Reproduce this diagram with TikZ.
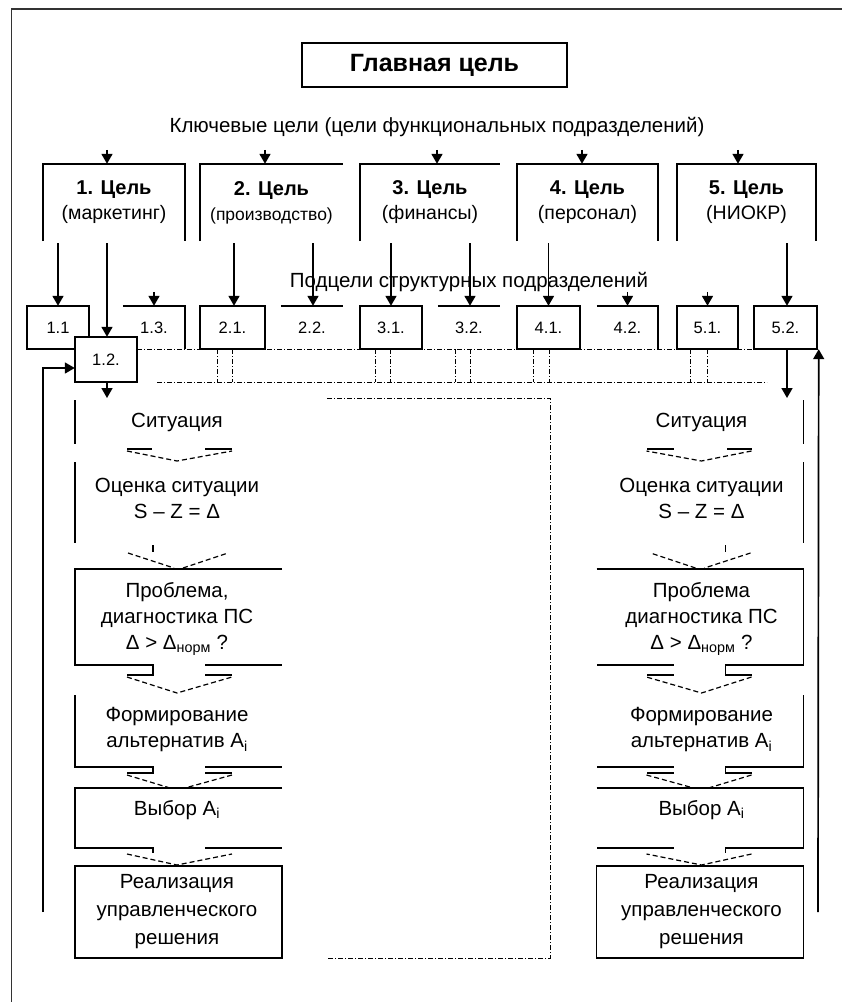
\documentclass[tikz,border=0pt]{standalone}
\usepackage{fontspec}
\setmainfont{Liberation Sans}
\usetikzlibrary{arrows.meta}
\newcommand\mycolumn[2]{%
  % Situation
  \draw[ln] (-102,400) -- (-102,444);
  \node[txt] (sit#1) at (0,422) {Ситуация};
  \draw[ln] (-50,449) -- (-25,449);
  \draw[ln] (28,449) -- (55,449);
  \draw[dsh] (-50,451) -- (0,461) -- (55,451);
  % Assessment
  \draw[ln] (-102,462) -- (-102,543);
  \node[txt] (oc#1) at (0,498) {Оценка ситуации\\S – Z = Δ};
  \draw[ln] (-24,545) -- (-24,552);
  \draw[dsh] (-49,553) -- (-3,568);
  \draw[dsh] (6,568) -- (51,553);
  % Problem
  \draw[ln] (105,569) -- (-102,569) -- (-102,665) -- (-24,665) -- (-24,675) -- (-50,675);
  \draw[ln] (28,665) -- (105,665);
  \draw[ln] (28,675) -- (55,675);
  \draw[dsh] (-50,677) -- (0,693) -- (55,677);
  \node[txt] (pr#1) at (0,619) {#2\\диагностика ПС\\Δ > Δ\textsubscript{норм} ?};
  % Alternatives
  \draw[ln] (-102,695) -- (-102,767) -- (-24,767) -- (-24,773) -- (-50,773);
  \draw[ln] (28,767) -- (105,767);
  \draw[ln] (28,773) -- (55,773);
  \draw[dsh] (-50,775) -- (-7,788);
  \draw[dsh] (55,775) -- (8,788);
  \node[txt] (fm#1) at (0,730) {Формирование\\альтернатив A\textsubscript{i}};
  % Choice
  \draw[ln] (105,788) -- (-102,788) -- (-102,848) -- (-24,848) -- (-24,853);
  \draw[ln] (28,848) -- (105,848);
  \draw[dsh] (-50,854) -- (0,865) -- (55,854);
  \node[txt] (vb#1) at (0,810) {Выбор A\textsubscript{i}};
  % Realisation
  \draw[ln] (-102,866) rectangle (105,958);
  \node[txt,font=\fontsize{20.5}{28}\selectfont] (re#1) at (0,912) {Реализация\\управленческого\\решения};
}
\begin{document}
\begin{tikzpicture}[x=1pt,y=-1pt,
  ln/.style={line width=1.7pt},
  arr/.style={line width=1.7pt,-{Triangle[length=10pt,width=11pt]}},
  dd/.style={line width=1pt,dash pattern=on 5pt off 2pt on 1pt off 2pt},
  dsh/.style={line width=1.2pt,dash pattern=on 5pt off 3pt},
  txt/.style={font=\fontsize{20.5}{26}\selectfont,align=center,inner sep=0pt},
  gbox/.style={minimum width=#1,minimum height=77pt,inner sep=0pt,align=center,font=\fontsize{19.5}{25}\selectfont},
  sbox/.style={minimum width=#1,minimum height=43pt,inner sep=0pt,font=\fontsize{16.5}{18}\selectfont}
]
\useasboundingbox (0,0) rectangle (842,1002);
\fill[white] (0,0) rectangle (842,1002);
% frame
\draw[line width=1.5pt,black!80] (11.5,1002) -- (11.5,9) -- (842,9);

% main goal
\node[draw,line width=2.2pt,minimum width=265pt,minimum height=44pt,inner sep=0pt,font=\bfseries\fontsize{25}{28}\selectfont] (main) at (434.5,65) {Главная цель};
\node[txt] (kt) at (437,127) {Ключевые цели (цели функциональных подразделений)};

% goal boxes
\node[gbox=142pt] (g1) at (114,202.5) {{\bfseries\fontsize{20}{25}\selectfont 1. Цель}\\(маркетинг)};
\node[gbox=143pt] (g2) at (271.5,202.5) {{\bfseries\fontsize{20}{25}\selectfont 2. Цель}\\{\fontsize{17.5}{25}\selectfont(производство)}};
\node[gbox=140pt] (g3) at (430,202.5) {{\bfseries\fontsize{20}{25}\selectfont 3. Цель}\\(финансы)};
\node[gbox=141pt] (g4) at (587.5,202.5) {{\bfseries\fontsize{20}{25}\selectfont 4. Цель}\\(персонал)};
\node[gbox=139pt] (g5) at (746.5,202.5) {{\bfseries\fontsize{20}{25}\selectfont 5. Цель}\\(НИОКР)};
\draw[ln] (g1.south west) -- (g1.north west) -- (g1.north east) -- (g1.south east);
\draw[ln] (g2.south west) -- (g2.north west) -- (g2.north east);
\draw[ln] (g3.south west) -- (g3.north west) -- (g3.north east);
\draw[ln] (g4.south west) -- (g4.north west) -- (g4.north east) -- (g4.south east);
\draw[ln] (g5.south west) -- (g5.north west) -- (g5.north east) -- (g5.south east);
\draw[arr] ([xshift=-7pt,yshift=14pt]g1.north) -- ([xshift=-7pt]g1.north);
\draw[arr] ([xshift=-6.5pt,yshift=14pt]g2.north) -- ([xshift=-6.5pt]g2.north);
\draw[arr] ([xshift=7pt,yshift=14pt]g3.north) -- ([xshift=7pt]g3.north);
\draw[arr] ([xshift=-5.5pt,yshift=14pt]g4.north) -- ([xshift=-5.5pt]g4.north);
\draw[arr] ([xshift=-8.5pt,yshift=14pt]g5.north) -- ([xshift=-8.5pt]g5.north);

\node[txt] (st) at (469,282) {Подцели структурных подразделений};

% dotted structure (drawn first)
\draw[dd] (137,349) -- (754,349);
\foreach \a in {217,232,375,390,455,470,533,549,690,707}
  \draw[dd] (\a,349) -- (\a,382);
\draw[dd] (157,382) -- (767,382);
\draw[dd] (327,398) -- (550,398) -- (550,958) -- (327,958);

% subgoal boxes
\node[sbox=62pt,fill=white] (s11) at (58,327.5) {1.1};
\draw[ln] (s11.south west) rectangle (s11.north east);
\node[sbox=62pt] (s13) at (154,327.5) {1.3.};
\node[sbox=62pt,minimum height=45pt,fill=white] (s12) at (106,359.5) {1.2.};
\node[sbox=65pt] (s21) at (232.5,327.5) {2.1.};
\node[sbox=62pt] (s22) at (312,327.5) {2.2.};
\node[sbox=62pt] (s31) at (391,327.5) {3.1.};
\node[sbox=62pt] (s32) at (469,327.5) {3.2.};
\node[sbox=63pt] (s41) at (548.5,327.5) {4.1.};
\node[sbox=61pt] (s42) at (627.5,327.5) {4.2.};
\node[sbox=61pt] (s51) at (707.5,327.5) {5.1.};
\node[sbox=63pt] (s52) at (785.5,327.5) {5.2.};
\draw[ln] (s12.south west) rectangle (s12.north east);
\draw[ln] (s13.north west) -- (s13.north east) -- (s13.south east);
\draw[ln] (s21.south west) rectangle (s21.north east);
\draw[ln] (s22.north west) -- (s22.north east);
\draw[ln] (s31.south west) rectangle (s31.north east);
\draw[ln] (s32.north west) -- (s32.north east);
\draw[ln] (s41.south west) rectangle (s41.north east);
\draw[ln] (s42.north west) -- (s42.north east) -- (s42.south east);
\draw[ln] (s51.south west) rectangle (s51.north east);
\draw[ln] (s52.south west) rectangle (s52.north east);

% goals -> subgoals
\draw[arr] ([yshift=-2pt]s11.north |- g1.south) -- (s11.north);
\draw[arr] ([yshift=-2pt,xshift=1pt]s12.north |- g1.south) -- ([xshift=1pt]s12.north);
\draw[arr] ([yshift=-2pt,xshift=1.5pt]s21.north |- g2.south) -- ([xshift=1.5pt]s21.north);
\draw[arr] ([yshift=-2pt,xshift=1pt]s22.north |- g2.south) -- ([xshift=1pt]s22.north);
\draw[arr] ([yshift=-2pt]s31.north |- g3.south) -- (s31.north);
\draw[arr] ([yshift=-2pt,xshift=1pt]s32.north |- g3.south) -- ([xshift=1pt]s32.north);
\draw[arr] ([yshift=-2pt]s41.north |- g4.south) -- (s41.north);
\draw[arr] ([yshift=-2pt,xshift=1.5pt]s52.north |- g5.south) -- ([xshift=1.5pt]s52.north);
\draw[arr] ([yshift=14pt]s13.north) -- (s13.north);
\draw[arr] ([yshift=14pt]s42.north) -- (s42.north);
\draw[arr] ([yshift=14pt]s51.north) -- (s51.north);

% columns
\begin{scope}[shift={(177,0)}]
  \mycolumn{L}{Проблема,}
\end{scope}
\begin{scope}[shift={(701.5,0)},xscale=-1]
  \mycolumn{R}{Проблема}
\end{scope}

% links to columns and feedback
\coordinate (inL) at (107,398);
\coordinate (inR) at (787,398);
\coordinate (fbL) at (43,912);
\coordinate (fbR) at (818,912);
\draw[arr] ([xshift=1pt]s12.south) -- ([xshift=1pt]s12.south |- inL);
\draw[arr] ([xshift=1.5pt]s52.south) -- ([xshift=1.5pt]s52.south |- inR);
\draw[arr] (fbL) |- ([yshift=-8.5pt]s12.west);
\draw[arr] (fbR) -- ([xshift=1.5pt]s52.south east);
\end{tikzpicture}
\end{document}
